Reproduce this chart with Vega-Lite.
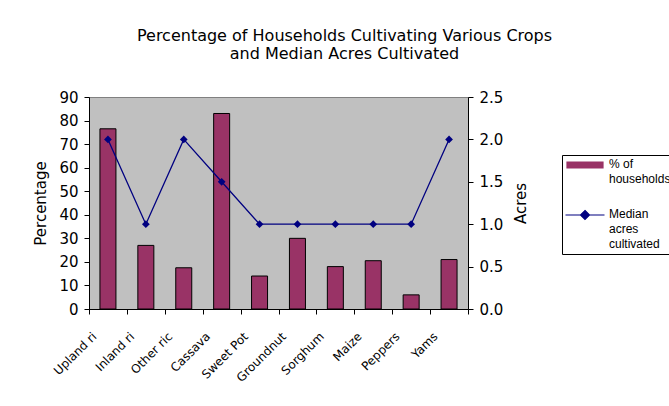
{
  "$schema": "https://vega.github.io/schema/vega-lite/v6.json",
  "width": 379,
  "height": 212,
  "autosize": {"type": "none"},
  "padding": {"left": 89, "top": 97, "right": 201, "bottom": 97},
  "background": "white",
  "title": {
    "text": ["Percentage of Households Cultivating Various Crops", "and Median Acres Cultivated"],
    "font": "DejaVu Sans",
    "fontSize": 16,
    "fontWeight": "normal",
    "lineHeight": 18,
    "color": "black",
    "anchor": "middle",
    "frame": "group",
    "dx": 66,
    "offset": 28
  },
  "config": {
    "view": {"fill": "#C0C0C0", "stroke": "#808080"},
    "axis": {
      "grid": false,
      "domainColor": "black",
      "tickColor": "black",
      "tickSize": 5,
      "labelColor": "black",
      "titleColor": "black",
      "labelFont": "DejaVu Sans",
      "titleFont": "DejaVu Sans",
      "labelFontSize": 15,
      "titleFontSize": 15,
      "titleFontWeight": "normal"
    },
    "legend": {
      "orient": "none",
      "legendX": 473,
      "legendY": 58,
      "strokeColor": "black",
      "fillColor": "white",
      "padding": 4,
      "symbolSize": 100,
      "symbolOffset": 13,
      "labelFont": "Liberation Sans",
      "labelFontSize": 12,
      "labelColor": "black",
      "labelLimit": 200,
      "labelOffset": 18,
      "rowPadding": 23
    }
  },
  "data": {
    "values": [
      {"crop": "Upland rice", "pct": 76.5, "acres": 2},
      {"crop": "Inland rice", "pct": 27, "acres": 1},
      {"crop": "Other rice", "pct": 17.5, "acres": 2},
      {"crop": "Cassava", "pct": 83, "acres": 1.5},
      {"crop": "Sweet Potato", "pct": 14, "acres": 1},
      {"crop": "Groundnut", "pct": 30, "acres": 1},
      {"crop": "Sorghum", "pct": 18, "acres": 1},
      {"crop": "Maize", "pct": 20.5, "acres": 1},
      {"crop": "Peppers", "pct": 6, "acres": 1},
      {"crop": "Yams", "pct": 21, "acres": 2}
    ]
  },
  "encoding": {
    "x": {
      "field": "crop",
      "type": "nominal",
      "sort": null,
      "scale": {"paddingInner": 0, "paddingOuter": 0},
      "axis": {
        "title": null,
        "tickBand": "extent",
        "labelAngle": -45,
        "labelAlign": "right",
        "labelBaseline": "middle",
        "labelFontSize": 12,
        "labelLimit": 80,
        "labelPadding": 20,
        "labelOffset": -14,
        "labelExpr": "slice(datum.label, 0, 9)"
      }
    }
  },
  "layer": [
    {
      "mark": {"type": "bar", "width": 16, "stroke": "black", "strokeWidth": 1},
      "encoding": {
        "y": {
          "field": "pct",
          "type": "quantitative",
          "title": "Percentage",
          "scale": {"domain": [0, 90], "nice": false},
          "axis": {"values": [0, 10, 20, 30, 40, 50, 60, 70, 80, 90], "labelPadding": 6, "titlePadding": 10}
        },
        "color": {
          "datum": "% of households",
          "type": "nominal",
          "scale": {"domain": ["% of households", "Median acres cultivated"], "range": ["#993366", "#000080"]},
          "legend": {
            "title": null,
            "labelExpr": "indexof(datum.label, 'Median') == 0 ? split(datum.label, ' ') : [slice(datum.label, 0, 4), slice(datum.label, 5)]",
            "labelBaseline": "top",
            "encode": {
              "symbols": {
                "update": {
                  "shape": {"signal": "datum.value == '% of households' ? 'M-3.6,-0.6H3.6V0.6H-3.6Z' : 'M-3.9,0H3.9M0,-0.9L0.9,0L0,0.9L-0.9,0Z'"},
                  "fill": {"signal": "datum.value == '% of households' ? '#993366' : '#000080'"},
                  "stroke": {"signal": "datum.value == '% of households' ? 'black' : '#000080'"},
                  "strokeWidth": {"value": 1.2},
                  "opacity": {"value": 1},
                  "fillOpacity": {"value": 1}
                }
              },
              "labels": {"update": {"dy": {"value": -6}, "lineHeight": {"value": 15}}}
            }
          }
        }
      }
    },
    {
      "mark": {"type": "line", "color": "#000080", "strokeWidth": 1.3, "point": {"shape": "diamond", "filled": true, "size": 60}},
      "encoding": {
        "y": {
          "field": "acres",
          "type": "quantitative",
          "title": "Acres",
          "scale": {"domain": [0, 2.5], "nice": false},
          "axis": {"orient": "right", "values": [0, 0.5, 1, 1.5, 2, 2.5], "format": ".1f", "labelPadding": 6, "titlePadding": 26, "titleAngle": 270}
        },
        "color": {
          "datum": "Median acres cultivated",
          "type": "nominal",
          "legend": {
            "title": null,
            "labelExpr": "indexof(datum.label, 'Median') == 0 ? split(datum.label, ' ') : [slice(datum.label, 0, 4), slice(datum.label, 5)]",
            "labelBaseline": "top",
            "encode": {
              "symbols": {
                "update": {
                  "shape": {"signal": "datum.value == '% of households' ? 'M-3.6,-0.6H3.6V0.6H-3.6Z' : 'M-3.9,0H3.9M0,-0.9L0.9,0L0,0.9L-0.9,0Z'"},
                  "fill": {"signal": "datum.value == '% of households' ? '#993366' : '#000080'"},
                  "stroke": {"signal": "datum.value == '% of households' ? 'black' : '#000080'"},
                  "strokeWidth": {"value": 1.2},
                  "opacity": {"value": 1},
                  "fillOpacity": {"value": 1}
                }
              },
              "labels": {"update": {"dy": {"value": -6}, "lineHeight": {"value": 15}}}
            }
          }
        }
      }
    }
  ],
  "resolve": {"scale": {"y": "independent"}}
}
